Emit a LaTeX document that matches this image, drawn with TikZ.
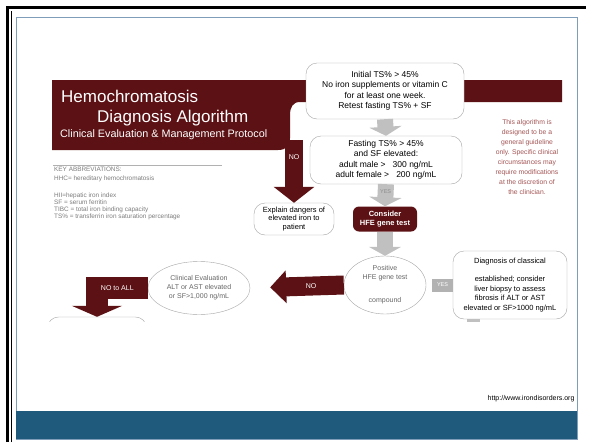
\documentclass[tikz,border=0pt]{standalone}
\usepackage{fontspec}
\setmainfont{Liberation Sans}
\usepackage{tikz}
\usetikzlibrary{arrows.meta,positioning,calc,shapes.geometric}
\definecolor{banner}{RGB}{92,17,20}
\definecolor{slideblue}{RGB}{31,90,124}
\definecolor{framegray}{RGB}{127,157,185}
\definecolor{arrowgray}{RGB}{192,192,192}
\definecolor{notegray}{RGB}{125,125,125}
\definecolor{notered}{RGB}{165,85,85}
\newcommand{\fsz}[2]{\fontsize{#1}{#2}\selectfont}
\tikzset{
    box/.style={draw=black!35, fill=white, rounded corners=11pt, align=center, inner sep=2pt, font=\fsz{8.5}{10.5}},
    oval/.style={ellipse, draw=black!35, fill=white, align=center, inner sep=1pt, text=black!60, font=\fsz{7}{9}},
    gene/.style={fill=banner, rounded corners=6pt, align=center, text=white, font=\bfseries\fsz{7.5}{9.5}, inner sep=1pt},
    grayblock/.style={draw=arrowgray, line width=16pt, -{Triangle[length=9pt,width=32pt]}},
    redblock/.style={draw=banner, line width=18pt, line join=miter, -{Triangle[length=16pt,width=40pt]}},
    arrow label/.style={text=white, font=\fsz{7}{8}, inner sep=0pt},
    banner text/.style={text=white, anchor=base west, inner sep=0pt},
    key text/.style={text=notegray, align=left, anchor=north west, inner sep=0pt, font=\fsz{6.4}{7.2}},
}
\tikzstyle{every node}=[font=\fsz{7}{8}]
\begin{document}
\begin{tikzpicture}[x=1pt,y=-1pt]
    \useasboundingbox (0,0) rectangle (592,442);
    \draw[line width=2.5pt] (7.5,442) -- (7.5,7.5) -- (586,7.5);
    \draw[line width=0.8pt] (11,442) -- (11,11);
    \draw[framegray,line width=0.8pt,fill=white] (16,17) rectangle (577,439);
    \fill[slideblue] (16,411) rectangle (577,439);
    \node[anchor=east] (url) at (578,399) {http://www.irondisorders.org};

    \fill[banner] (52,80) -- (562,80) -- (562,102) -- (300,102)
        .. controls (293,102) and (290,107) .. (290,115) -- (290,138)
        .. controls (290,146) and (286,150) .. (278,150) -- (52,150) -- cycle;
    \node[banner text, font=\fsz{17}{19}] (title) at (61,102) {Hemochromatosis};
    \node[banner text, font=\fsz{17}{19}] (subtitle) at (97,122) {Diagnosis Algorithm};
    \node[banner text, font=\fsz{10.8}{12}] (protocol) at (60,137) {Clinical Evaluation \& Management Protocol};

    \draw[notegray!60] (53,165) -- (222,165);
    \node[key text] (key) at (54,167) {KEY ABBREVIATIONS:\\[2pt] HHC= hereditary hemochromatosis\\[9pt]
        HII=hepatic iron index\\ SF = serum ferritin\\ TIBC = total iron binding capacity\\
        TS\% = transferrin iron saturation percentage};
    \node[text=notered, align=center, font=\fsz{6.8}{10}] (note) at (527,157) {This algorithm is\\ designed to be a\\
        general guideline\\ only. Specific clinical\\ circumstances may\\ require modifications\\
        at the discretion of\\ the clinician.};

    \node[box, minimum width=158pt, minimum height=56pt] (init) at (385,91) {Initial TS\% > 45\%\\
        No iron supplements or vitamin C\\ for at least one week.\\ Retest fasting TS\% + SF};
    \node[box, minimum width=152pt, minimum height=48pt] (fasting) at (386,160) {Fasting TS\% > 45\%\\
        and SF elevated:\\ adult male >\ \ \ 300 ng/mL\\ adult female >\ \ \ 200 ng/mL};
    \node[box, minimum width=80pt, minimum height=32pt, font=\fsz{7.5}{8.5}] (explain) at (294,219)
        {Explain dangers of\\ elevated iron to\\ patient};
    \node[gene, minimum width=64pt, minimum height=25pt] (consider) at (385,219) {Consider\\ HFE gene test};
    \node[oval, minimum width=82pt, minimum height=58pt] (positive) at (385,285)
        {Positive\\ HFE gene test\\[14pt] compound};
    \node[box, minimum width=114pt, minimum height=68pt, font=\fsz{7.5}{9.5}] (diag) at (510,285)
        {Diagnosis of classical\\[9pt] established; consider\\ liver biopsy to assess\\
        fibrosis if ALT or AST\\ elevated or SF>1000 ng/mL};
    \node[oval, minimum width=102pt, minimum height=53pt] (clin) at (199,288)
        {Clinical Evaluation\\ ALT or AST elevated\\ or SF>1,000 ng/mL};

    \begin{scope}
        \clip (16,17) rectangle (577,321);
        \node[box, minimum width=99pt, minimum height=40pt] (nextbox) at (97,337) {};
        \coordinate (stub) at ($(diag.south)+(-37,12)$);
        \draw[draw=arrowgray, line width=13pt] (diag.south -| stub) -- (stub);
    \end{scope}

    \draw[grayblock] (init.south) -- (fasting.north);
    \draw[grayblock] (fasting.south) -- (consider.north)
        node[pos=0.35, text=black!45, font=\fsz{5.5}{6}] {YES};
    \draw[grayblock] (consider.south) -- (positive.north);
    \draw[draw=black!30, line width=13pt] ([xshift=6pt]positive.east) -- (diag.west)
        node[midway, arrow label, font=\fsz{5.5}{6}] {YES};

    \coordinate (nostart) at (294,140);
    \draw[redblock] (nostart) -- (explain.north) node[pos=0.28, arrow label] {NO};
    \draw[redblock, line width=19pt, -{Triangle[length=16pt,width=32pt]}, shorten >=20pt]
        (positive.west) -- (clin.east) node[pos=0.35, arrow label] {NO};
    \draw[redblock, line width=22pt, -{Triangle[length=11pt,width=50pt]}]
        (clin.west) -| (nextbox.north) node[pos=0.3, arrow label] {NO to ALL};
\end{tikzpicture}
\end{document}
